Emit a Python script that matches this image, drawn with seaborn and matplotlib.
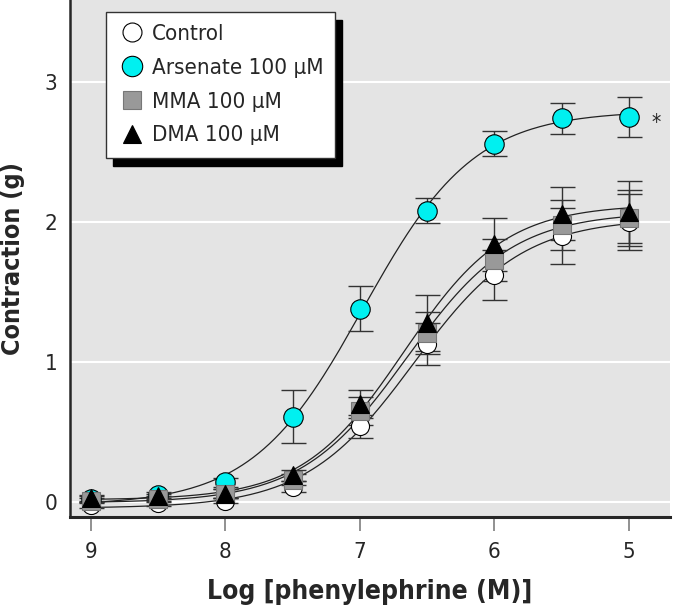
import numpy as np
import pandas as pd
import matplotlib
matplotlib.use("Agg")
import matplotlib.pyplot as plt
import seaborn as sns
from matplotlib.lines import Line2D
from matplotlib.patches import Rectangle
from matplotlib import font_manager

# -log [phenylephrine (M)]
log_conc = [9, 8.5, 8, 7.5, 7, 6.5, 6, 5.5, 5]

control = [-0.02, -0.01, 0.01, 0.11, 0.54, 1.13, 1.62, 1.90, 2.00]
control_sem = [0.02, 0.02, 0.02, 0.04, 0.08, 0.15, 0.18, 0.20, 0.20]
arsenate = [0.02, 0.05, 0.14, 0.61, 1.38, 2.08, 2.56, 2.74, 2.75]
arsenate_sem = [0.02, 0.02, 0.03, 0.19, 0.16, 0.09, 0.09, 0.11, 0.14]
mma = [0.01, 0.02, 0.06, 0.16, 0.65, 1.21, 1.73, 1.98, 2.03]
mma_sem = [0.02, 0.02, 0.03, 0.04, 0.10, 0.15, 0.15, 0.18, 0.20]
dma = [0.03, 0.04, 0.06, 0.19, 0.70, 1.28, 1.84, 2.06, 2.07]
dma_sem = [0.02, 0.02, 0.03, 0.04, 0.10, 0.20, 0.19, 0.19, 0.22]

series_names = ["Control", "Arsenate 100 \u03bcM", "MMA 100 \u03bcM", "DMA 100 \u03bcM"]

FIG_SIZE = (6.74, 6.16)


def fit_logistic(x, y):
    """Least-squares 4-parameter logistic fit (grid over mid/slope, linear for bottom/top)."""
    x = np.asarray(x, float)
    y = np.asarray(y, float)
    best = None
    for mid in np.linspace(5.0, 8.5, 141):
        for slope in np.linspace(0.4, 3.0, 105):
            s = 1.0 / (1.0 + 10 ** (slope * (x - mid)))
            A = np.column_stack([1 - s, s])
            coef, *_ = np.linalg.lstsq(A, y, rcond=None)
            err = np.sum((A @ coef - y) ** 2)
            if best is None or err < best[0]:
                best = (err, mid, slope, coef)
    _, mid, slope, (bottom, top) = best
    return lambda xx: bottom + (top - bottom) / (1.0 + 10 ** (slope * (np.asarray(xx) - mid)))


sns.set_style("ticks")
names = {f.name for f in font_manager.fontManager.ttflist}
if "Liberation Sans Narrow" in names:
    plt.rcParams["font.family"] = ["Liberation Sans Narrow", "DejaVu Sans"]
else:
    plt.rcParams["font.family"] = ["DejaVu Sans"]
    plt.rcParams["font.stretch"] = "condensed"

fig = plt.figure(figsize=FIG_SIZE, dpi=100)
ax = fig.add_axes([70 / 674, 99 / 616, 600 / 674, 517 / 616])
ax.set_facecolor("#e4e4e4")

styles = [
    (control, control_sem, dict(marker="o", mfc="white", mec="black", ms=13), 3),
    (arsenate, arsenate_sem, dict(marker="o", mfc="#00f0f0", mec="black", ms=14), 3.2),
    (mma, mma_sem, dict(marker="s", mfc="#999999", mec="#777777", ms=12.5), 3.4),
    (dma, dma_sem, dict(marker="^", mfc="black", mec="black", ms=13), 3.6),
]

xs = np.linspace(9, 5, 200)
for (vals, sem, mk, z), name in zip(styles, series_names):
    curve = fit_logistic(log_conc, vals)
    sns.lineplot(x=xs, y=curve(xs), ax=ax, color="#222222", lw=0.9, zorder=2)
    ax.errorbar(log_conc, vals, yerr=sem, fmt="none", ecolor="#333333",
                elinewidth=1.0, capsize=9, capthick=1.0, zorder=2.5)
    df = pd.DataFrame({"x": log_conc, "y": vals})
    ax.plot(df["x"], df["y"], ls="none", mew=0.8, zorder=z, **mk)

ax.annotate("*", xy=(log_conc[-1], arsenate[-1]), xytext=(16, -4),
            textcoords="offset points", fontsize=15, ha="left", va="center")

ax.set_xlim(9.156, 4.695)
ax.set_ylim(-0.107, 3.586)
ax.set_xticks([9, 8, 7, 6, 5])
ax.set_yticks([0, 1, 2, 3])
ax.grid(axis="y", color="white", lw=1.5)
ax.set_axisbelow(True)

for side in ["top", "right"]:
    ax.spines[side].set_visible(False)
ax.spines["bottom"].set_linewidth(2.2)
ax.spines["left"].set_linewidth(1.8)
ax.tick_params(axis="x", length=10, width=1.3, color="#888888", labelsize=16, pad=8)
ax.tick_params(axis="y", length=0, labelsize=16, pad=9)

ax.set_xlabel("Log [phenylephrine (M)]", fontsize=19, fontweight="bold", labelpad=12)
ax.set_ylabel("Contraction (g)", fontsize=18, fontweight="bold", labelpad=14)

handles = [Line2D([], [], ls="none", mew=0.8, **s[2]) for s in styles]
for h in handles:
    h.set_markersize(h.get_markersize() * 1.05)
leg = ax.legend(handles, series_names, loc="upper left", bbox_to_anchor=(0.06, 0.977),
                frameon=True, fancybox=False, framealpha=1, edgecolor="#333333",
                fontsize=16, handletextpad=0.3, borderpad=0.55, labelspacing=0.62,
                handlelength=1.2, borderaxespad=0)
leg.get_frame().set_linewidth(1.0)
leg.set_zorder(6)

# hard black drop shadow behind the legend box
fig.canvas.draw()
bb = leg.get_window_extent().transformed(ax.transAxes.inverted())
dx, dy = 7 / 600, -8 / 517
ax.add_patch(Rectangle((bb.x0 + dx, bb.y0 + dy), bb.width, bb.height,
                       transform=ax.transAxes, color="black", zorder=5.5, clip_on=False))

fig.savefig("out.png", dpi=100)
